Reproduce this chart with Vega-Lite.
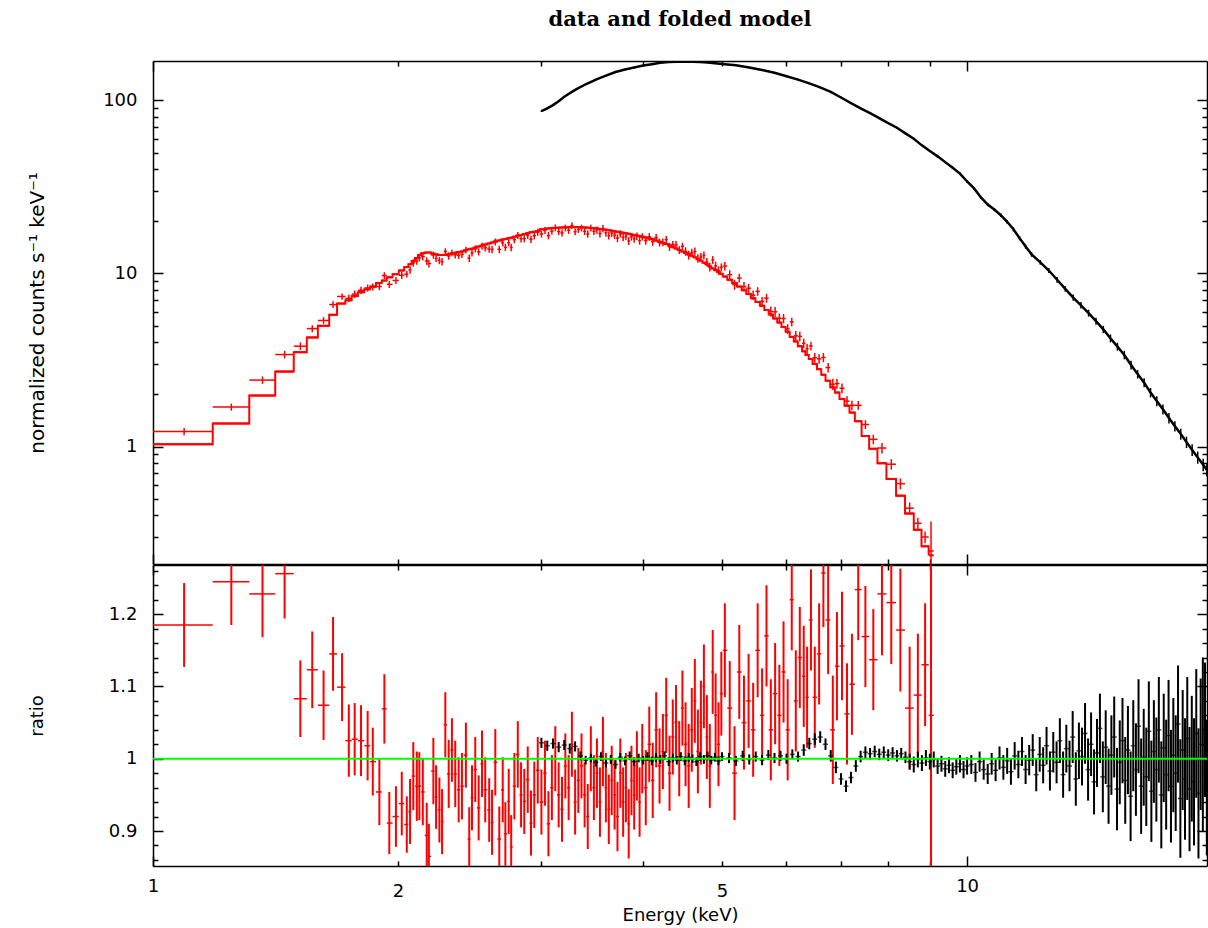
{
"$schema": "https://vega.github.io/schema/vega-lite/v6.json",
"background": "white",
"padding": {"left": 27, "top": 9, "right": 0, "bottom": 2},
"autosize": {"type": "pad"},
"spacing": -6,
"config": {
  "view": {"stroke": null},
  "axis": {"domainColor": "#000000", "domainWidth": 1.5, "tickColor": "#000000", "tickWidth": 1.5, "labelFont": "DejaVu Sans", "labelFontSize": 18, "labelColor": "#000000", "titleFont": "DejaVu Sans", "titleFontSize": 18, "titleFontWeight": "normal", "titleColor": "#000000", "grid": false, "labelFlush": false, "labelOverlap": false}
},
"datasets": {
"red": [
{"e":1.092,"lo":1.0,"hi":1.184,"y":1.22,"dy":0.06,"m":1.03,"r":1.185,"dr":0.058},
{"e":1.248,"lo":1.184,"hi":1.313,"y":1.69,"dy":0.08,"m":1.36,"r":1.245,"dr":0.06},
{"e":1.363,"lo":1.313,"hi":1.413,"y":2.42,"dy":0.12,"m":1.97,"r":1.228,"dr":0.06},
{"e":1.451,"lo":1.413,"hi":1.489,"y":3.40,"dy":0.17,"m":2.71,"r":1.256,"dr":0.062},
{"e":1.517,"lo":1.489,"hi":1.545,"y":3.80,"dy":0.19,"m":3.51,"r":1.083,"dr":0.053},
{"e":1.569,"lo":1.545,"hi":1.594,"y":4.80,"dy":0.22,"m":4.27,"r":1.123,"dr":0.053},
{"e":1.620,"lo":1.594,"hi":1.646,"y":5.35,"dy":0.24,"m":4.98,"r":1.074,"dr":0.048},
{"e":1.664,"lo":1.646,"hi":1.683,"y":6.61,"dy":0.29,"m":5.77,"r":1.145,"dr":0.051},
{"e":1.707,"lo":1.683,"hi":1.723,"y":7.36,"dy":0.31,"m":6.7,"r":1.099,"dr":0.047},
{"e":1.740,"lo":1.723,"hi":1.754,"y":7.18,"dy":0.35,"m":7.0,"r":1.025,"dr":0.050},
{"e":1.769,"lo":1.754,"hi":1.785,"y":7.60,"dy":0.37,"m":7.4,"r":1.027,"dr":0.050},
{"e":1.801,"lo":1.785,"hi":1.818,"y":8.00,"dy":0.38,"m":7.8,"r":1.025,"dr":0.049},
{"e":1.835,"lo":1.818,"hi":1.848,"y":8.25,"dy":0.39,"m":8.1,"r":1.018,"dr":0.048},
{"e":1.862,"lo":1.848,"hi":1.879,"y":8.37,"dy":0.39,"m":8.4,"r":0.996,"dr":0.047},
{"e":1.897,"lo":1.879,"hi":1.910,"y":8.40,"dy":0.40,"m":8.8,"r":0.954,"dr":0.046},
{"e":1.924,"lo":1.910,"hi":1.937,"y":9.73,"dy":0.44,"m":9.1,"r":1.069,"dr":0.048},
{"e":1.951,"lo":1.937,"hi":1.969,"y":8.65,"dy":0.41,"m":9.5,"r":0.911,"dr":0.043},
{"e":1.988,"lo":1.969,"hi":2.004,"y":9.11,"dy":0.42,"m":9.9,"r":0.920,"dr":0.042},
{"e":2.021,"lo":2.004,"hi":2.035,"y":9.76,"dy":0.46,"m":10.4,"r":0.938,"dr":0.044},
{"e":2.050,"lo":2.035,"hi":2.059,"y":9.91,"dy":0.43,"m":10.9,"r":0.909,"dr":0.039},
{"e":2.069,"lo":2.059,"hi":2.078,"y":10.48,"dy":0.51,"m":11.3,"r":0.927,"dr":0.045},
{"e":2.088,"lo":2.078,"hi":2.098,"y":11.52,"dy":0.55,"m":11.8,"r":0.976,"dr":0.047},
{"e":2.109,"lo":2.098,"hi":2.116,"y":11.83,"dy":0.59,"m":12.3,"r":0.962,"dr":0.048},
{"e":2.124,"lo":2.116,"hi":2.134,"y":12.31,"dy":0.60,"m":12.8,"r":0.962,"dr":0.047},
{"e":2.145,"lo":2.134,"hi":2.157,"y":12.50,"dy":0.60,"m":13.1,"r":0.954,"dr":0.046},
{"e":2.169,"lo":2.157,"hi":2.175,"y":11.80,"dy":0.59,"m":13.2,"r":0.894,"dr":0.045},
{"e":2.182,"lo":2.175,"hi":2.196,"y":11.42,"dy":0.59,"m":13.2,"r":0.865,"dr":0.045},
{"e":2.210,"lo":2.196,"hi":2.218,"y":12.78,"dy":0.60,"m":13.0,"r":0.983,"dr":0.046},
{"e":2.227,"lo":2.218,"hi":2.237,"y":12.22,"dy":0.57,"m":12.9,"r":0.947,"dr":0.044},
{"e":2.248,"lo":2.237,"hi":2.256,"y":11.89,"dy":0.58,"m":12.8,"r":0.929,"dr":0.045},
{"e":2.265,"lo":2.256,"hi":2.275,"y":11.69,"dy":0.58,"m":12.8,"r":0.913,"dr":0.045},
{"e":2.286,"lo":2.275,"hi":2.297,"y":13.40,"dy":0.58,"m":12.8,"r":1.047,"dr":0.045},
{"e":2.308,"lo":2.297,"hi":2.318,"y":12.63,"dy":0.61,"m":12.9,"r":0.979,"dr":0.047},
{"e":2.329,"lo":2.318,"hi":2.340,"y":13.16,"dy":0.57,"m":13.0,"r":1.012,"dr":0.044},
{"e":2.351,"lo":2.340,"hi":2.362,"y":12.82,"dy":0.60,"m":13.1,"r":0.979,"dr":0.046},
{"e":2.374,"lo":2.362,"hi":2.385,"y":12.73,"dy":0.60,"m":13.3,"r":0.957,"dr":0.045},
{"e":2.396,"lo":2.385,"hi":2.409,"y":12.89,"dy":0.62,"m":13.4,"r":0.962,"dr":0.046},
{"e":2.423,"lo":2.409,"hi":2.434,"y":13.67,"dy":0.61,"m":13.6,"r":1.005,"dr":0.045},
{"e":2.446,"lo":2.434,"hi":2.455,"y":12.27,"dy":0.61,"m":13.8,"r":0.889,"dr":0.044},
{"e":2.465,"lo":2.455,"hi":2.476,"y":13.15,"dy":0.63,"m":13.9,"r":0.946,"dr":0.045},
{"e":2.488,"lo":2.476,"hi":2.500,"y":13.89,"dy":0.63,"m":14.1,"r":0.985,"dr":0.045},
{"e":2.512,"lo":2.500,"hi":2.524,"y":13.33,"dy":0.64,"m":14.3,"r":0.932,"dr":0.045},
{"e":2.536,"lo":2.524,"hi":2.547,"y":14.40,"dy":0.67,"m":14.5,"r":0.993,"dr":0.046},
{"e":2.559,"lo":2.547,"hi":2.573,"y":14.07,"dy":0.66,"m":14.7,"r":0.957,"dr":0.045},
{"e":2.588,"lo":2.573,"hi":2.598,"y":13.84,"dy":0.66,"m":14.9,"r":0.929,"dr":0.044},
{"e":2.609,"lo":2.598,"hi":2.621,"y":13.77,"dy":0.68,"m":15.1,"r":0.912,"dr":0.045},
{"e":2.633,"lo":2.621,"hi":2.648,"y":15.22,"dy":0.70,"m":15.3,"r":0.995,"dr":0.046},
{"e":2.663,"lo":2.648,"hi":2.676,"y":13.78,"dy":0.70,"m":15.5,"r":0.889,"dr":0.045},
{"e":2.689,"lo":2.676,"hi":2.699,"y":15.02,"dy":0.71,"m":15.7,"r":0.957,"dr":0.045},
{"e":2.709,"lo":2.699,"hi":2.722,"y":14.16,"dy":0.70,"m":15.8,"r":0.896,"dr":0.044},
{"e":2.735,"lo":2.722,"hi":2.744,"y":15.06,"dy":0.72,"m":16.0,"r":0.941,"dr":0.045},
{"e":2.754,"lo":2.744,"hi":2.766,"y":14.14,"dy":0.71,"m":16.1,"r":0.878,"dr":0.044},
{"e":2.779,"lo":2.766,"hi":2.792,"y":15.68,"dy":0.75,"m":16.3,"r":0.962,"dr":0.046},
{"e":2.806,"lo":2.792,"hi":2.819,"y":16.60,"dy":0.76,"m":16.5,"r":1.006,"dr":0.046},
{"e":2.832,"lo":2.819,"hi":2.845,"y":15.87,"dy":0.75,"m":16.7,"r":0.950,"dr":0.045},
{"e":2.858,"lo":2.845,"hi":2.872,"y":15.90,"dy":0.76,"m":16.9,"r":0.941,"dr":0.045},
{"e":2.886,"lo":2.872,"hi":2.899,"y":16.60,"dy":0.79,"m":17.1,"r":0.971,"dr":0.046},
{"e":2.913,"lo":2.899,"hi":2.926,"y":15.76,"dy":0.78,"m":17.3,"r":0.911,"dr":0.045},
{"e":2.940,"lo":2.926,"hi":2.954,"y":16.53,"dy":0.80,"m":17.4,"r":0.950,"dr":0.046},
{"e":2.969,"lo":2.954,"hi":2.984,"y":17.32,"dy":0.81,"m":17.6,"r":0.984,"dr":0.046},
{"e":3.00,"lo":2.985,"hi":3.015,"y":16.92,"dy":0.81,"m":18.0,"r":0.94,"dr":0.045},
{"e":3.03,"lo":3.015,"hi":3.045,"y":17.74,"dy":0.81,"m":18.1,"r":0.98,"dr":0.045},
{"e":3.06,"lo":3.045,"hi":3.075,"y":16.56,"dy":0.82,"m":18.2,"r":0.91,"dr":0.045},
{"e":3.09,"lo":3.075,"hi":3.105,"y":17.57,"dy":0.82,"m":18.3,"r":0.96,"dr":0.045},
{"e":3.12,"lo":3.105,"hi":3.135,"y":18.35,"dy":0.83,"m":18.35,"r":1.00,"dr":0.045},
{"e":3.15,"lo":3.135,"hi":3.165,"y":17.48,"dy":0.83,"m":18.4,"r":0.95,"dr":0.045},
{"e":3.18,"lo":3.165,"hi":3.195,"y":17.16,"dy":0.83,"m":18.45,"r":0.93,"dr":0.045},
{"e":3.21,"lo":3.195,"hi":3.225,"y":18.32,"dy":0.83,"m":18.5,"r":0.99,"dr":0.045},
{"e":3.24,"lo":3.225,"hi":3.255,"y":17.76,"dy":0.83,"m":18.5,"r":0.96,"dr":0.045},
{"e":3.27,"lo":3.255,"hi":3.285,"y":18.92,"dy":0.83,"m":18.55,"r":1.02,"dr":0.045},
{"e":3.30,"lo":3.285,"hi":3.315,"y":17.44,"dy":0.83,"m":18.55,"r":0.94,"dr":0.045},
{"e":3.33,"lo":3.315,"hi":3.345,"y":17.99,"dy":0.83,"m":18.55,"r":0.97,"dr":0.045},
{"e":3.36,"lo":3.345,"hi":3.375,"y":18.32,"dy":0.83,"m":18.5,"r":0.99,"dr":0.045},
{"e":3.39,"lo":3.375,"hi":3.405,"y":17.53,"dy":0.83,"m":18.45,"r":0.95,"dr":0.045},
{"e":3.42,"lo":3.405,"hi":3.435,"y":16.93,"dy":0.83,"m":18.4,"r":0.92,"dr":0.045},
{"e":3.45,"lo":3.435,"hi":3.465,"y":18.30,"dy":0.82,"m":18.3,"r":1.00,"dr":0.045},
{"e":3.48,"lo":3.465,"hi":3.495,"y":17.52,"dy":0.82,"m":18.25,"r":0.96,"dr":0.045},
{"e":3.51,"lo":3.495,"hi":3.525,"y":17.84,"dy":0.87,"m":18.2,"r":0.98,"dr":0.048},
{"e":3.54,"lo":3.525,"hi":3.555,"y":17.01,"dy":0.87,"m":18.1,"r":0.94,"dr":0.048},
{"e":3.57,"lo":3.555,"hi":3.585,"y":18.18,"dy":0.86,"m":18.0,"r":1.01,"dr":0.048},
{"e":3.60,"lo":3.585,"hi":3.615,"y":17.18,"dy":0.86,"m":17.9,"r":0.96,"dr":0.048},
{"e":3.63,"lo":3.615,"hi":3.645,"y":16.55,"dy":0.85,"m":17.8,"r":0.93,"dr":0.048},
{"e":3.66,"lo":3.645,"hi":3.675,"y":17.12,"dy":0.85,"m":17.65,"r":0.97,"dr":0.048},
{"e":3.69,"lo":3.675,"hi":3.705,"y":16.67,"dy":0.84,"m":17.55,"r":0.95,"dr":0.048},
{"e":3.72,"lo":3.705,"hi":3.735,"y":16.01,"dy":0.84,"m":17.4,"r":0.92,"dr":0.048},
{"e":3.75,"lo":3.735,"hi":3.765,"y":16.95,"dy":0.83,"m":17.3,"r":0.98,"dr":0.048},
{"e":3.78,"lo":3.765,"hi":3.795,"y":16.17,"dy":0.83,"m":17.2,"r":0.94,"dr":0.048},
{"e":3.81,"lo":3.795,"hi":3.825,"y":16.42,"dy":0.82,"m":17.1,"r":0.96,"dr":0.048},
{"e":3.84,"lo":3.825,"hi":3.855,"y":15.42,"dy":0.81,"m":16.95,"r":0.91,"dr":0.048},
{"e":3.87,"lo":3.855,"hi":3.885,"y":16.30,"dy":0.81,"m":16.8,"r":0.97,"dr":0.048},
{"e":3.90,"lo":3.885,"hi":3.915,"y":15.87,"dy":0.80,"m":16.7,"r":0.95,"dr":0.048},
{"e":3.93,"lo":3.915,"hi":3.945,"y":16.43,"dy":0.80,"m":16.6,"r":0.99,"dr":0.048},
{"e":3.96,"lo":3.945,"hi":3.975,"y":15.46,"dy":0.79,"m":16.45,"r":0.94,"dr":0.048},
{"e":3.99,"lo":3.975,"hi":4.010,"y":16.30,"dy":0.78,"m":16.3,"r":1.00,"dr":0.048},
{"e":4.03,"lo":4.010,"hi":4.050,"y":15.50,"dy":0.84,"m":16.15,"r":0.96,"dr":0.052},
{"e":4.07,"lo":4.050,"hi":4.090,"y":16.27,"dy":0.83,"m":15.95,"r":1.02,"dr":0.052},
{"e":4.11,"lo":4.090,"hi":4.130,"y":15.28,"dy":0.82,"m":15.75,"r":0.97,"dr":0.052},
{"e":4.15,"lo":4.130,"hi":4.170,"y":16.12,"dy":0.81,"m":15.5,"r":1.04,"dr":0.052},
{"e":4.19,"lo":4.170,"hi":4.210,"y":15.10,"dy":0.79,"m":15.25,"r":0.99,"dr":0.052},
{"e":4.23,"lo":4.210,"hi":4.250,"y":15.15,"dy":0.78,"m":15.0,"r":1.01,"dr":0.052},
{"e":4.27,"lo":4.250,"hi":4.290,"y":15.69,"dy":0.77,"m":14.8,"r":1.06,"dr":0.052},
{"e":4.31,"lo":4.290,"hi":4.330,"y":14.26,"dy":0.76,"m":14.55,"r":0.98,"dr":0.052},
{"e":4.35,"lo":4.330,"hi":4.370,"y":14.68,"dy":0.74,"m":14.25,"r":1.03,"dr":0.052},
{"e":4.39,"lo":4.370,"hi":4.410,"y":14.65,"dy":0.73,"m":13.95,"r":1.05,"dr":0.052},
{"e":4.43,"lo":4.410,"hi":4.450,"y":13.65,"dy":0.71,"m":13.65,"r":1.00,"dr":0.052},
{"e":4.47,"lo":4.450,"hi":4.490,"y":14.34,"dy":0.70,"m":13.4,"r":1.07,"dr":0.052},
{"e":4.51,"lo":4.490,"hi":4.530,"y":13.41,"dy":0.76,"m":13.15,"r":1.02,"dr":0.058},
{"e":4.55,"lo":4.530,"hi":4.570,"y":12.77,"dy":0.75,"m":12.9,"r":0.99,"dr":0.058},
{"e":4.59,"lo":4.570,"hi":4.610,"y":13.16,"dy":0.73,"m":12.65,"r":1.04,"dr":0.058},
{"e":4.63,"lo":4.610,"hi":4.650,"y":13.39,"dy":0.72,"m":12.4,"r":1.08,"dr":0.058},
{"e":4.67,"lo":4.650,"hi":4.690,"y":12.22,"dy":0.70,"m":12.1,"r":1.01,"dr":0.058},
{"e":4.71,"lo":4.690,"hi":4.730,"y":12.44,"dy":0.69,"m":11.85,"r":1.05,"dr":0.058},
{"e":4.75,"lo":4.730,"hi":4.770,"y":12.71,"dy":0.67,"m":11.55,"r":1.10,"dr":0.058},
{"e":4.79,"lo":4.770,"hi":4.810,"y":11.64,"dy":0.66,"m":11.3,"r":1.03,"dr":0.058},
{"e":4.83,"lo":4.810,"hi":4.850,"y":10.89,"dy":0.64,"m":11.0,"r":0.99,"dr":0.058},
{"e":4.87,"lo":4.850,"hi":4.890,"y":11.98,"dy":0.62,"m":10.7,"r":1.12,"dr":0.058},
{"e":4.91,"lo":4.890,"hi":4.930,"y":11.08,"dy":0.61,"m":10.45,"r":1.06,"dr":0.058},
{"e":4.95,"lo":4.930,"hi":4.970,"y":10.40,"dy":0.59,"m":10.2,"r":1.02,"dr":0.058},
{"e":4.99,"lo":4.970,"hi":5.010,"y":10.85,"dy":0.58,"m":9.95,"r":1.09,"dr":0.058},
{"e":5.04,"lo":5.010,"hi":5.075,"y":11.04,"dy":0.62,"m":9.6,"r":1.15,"dr":0.065},
{"e":5.11,"lo":5.075,"hi":5.145,"y":9.84,"dy":0.60,"m":9.2,"r":1.07,"dr":0.065},
{"e":5.18,"lo":5.145,"hi":5.215,"y":8.62,"dy":0.57,"m":8.8,"r":0.98,"dr":0.065},
{"e":5.25,"lo":5.215,"hi":5.285,"y":9.41,"dy":0.55,"m":8.4,"r":1.12,"dr":0.065},
{"e":5.32,"lo":5.285,"hi":5.355,"y":8.40,"dy":0.52,"m":8.0,"r":1.05,"dr":0.065},
{"e":5.39,"lo":5.355,"hi":5.425,"y":8.21,"dy":0.49,"m":7.6,"r":1.08,"dr":0.065},
{"e":5.46,"lo":5.425,"hi":5.495,"y":7.49,"dy":0.47,"m":7.2,"r":1.04,"dr":0.065},
{"e":5.53,"lo":5.495,"hi":5.565,"y":7.88,"dy":0.45,"m":6.85,"r":1.15,"dr":0.065},
{"e":5.60,"lo":5.565,"hi":5.635,"y":6.89,"dy":0.42,"m":6.5,"r":1.06,"dr":0.065},
{"e":5.67,"lo":5.635,"hi":5.705,"y":7.20,"dy":0.43,"m":6.15,"r":1.17,"dr":0.07},
{"e":5.74,"lo":5.705,"hi":5.775,"y":6.03,"dy":0.41,"m":5.8,"r":1.04,"dr":0.07},
{"e":5.81,"lo":5.775,"hi":5.845,"y":6.00,"dy":0.39,"m":5.5,"r":1.09,"dr":0.07},
{"e":5.88,"lo":5.845,"hi":5.915,"y":5.51,"dy":0.36,"m":5.2,"r":1.06,"dr":0.07},
{"e":5.95,"lo":5.915,"hi":5.985,"y":5.49,"dy":0.34,"m":4.9,"r":1.12,"dr":0.07},
{"e":6.02,"lo":5.985,"hi":6.055,"y":4.78,"dy":0.32,"m":4.6,"r":1.04,"dr":0.07},
{"e":6.09,"lo":6.055,"hi":6.125,"y":5.25,"dy":0.30,"m":4.3,"r":1.22,"dr":0.07},
{"e":6.16,"lo":6.125,"hi":6.195,"y":4.37,"dy":0.28,"m":4.05,"r":1.08,"dr":0.07},
{"e":6.23,"lo":6.195,"hi":6.270,"y":4.33,"dy":0.27,"m":3.8,"r":1.14,"dr":0.07},
{"e":6.30,"lo":6.27,"hi":6.33,"y":3.95,"dy":0.25,"m":3.55,"r":1.114,"dr":0.07},
{"e":6.36,"lo":6.33,"hi":6.39,"y":3.67,"dy":0.24,"m":3.38,"r":1.085,"dr":0.07},
{"e":6.43,"lo":6.39,"hi":6.46,"y":3.81,"dy":0.22,"m":3.2,"r":1.192,"dr":0.07},
{"e":6.50,"lo":6.46,"hi":6.54,"y":3.26,"dy":0.21,"m":3.0,"r":1.085,"dr":0.07},
{"e":6.58,"lo":6.54,"hi":6.62,"y":3.21,"dy":0.20,"m":2.8,"r":1.145,"dr":0.07},
{"e":6.66,"lo":6.62,"hi":6.70,"y":3.27,"dy":0.20,"m":2.6,"r":1.257,"dr":0.075},
{"e":6.75,"lo":6.70,"hi":6.79,"y":2.86,"dy":0.18,"m":2.4,"r":1.192,"dr":0.075},
{"e":6.84,"lo":6.79,"hi":6.88,"y":2.29,"dy":0.17,"m":2.2,"r":1.04,"dr":0.075},
{"e":6.92,"lo":6.88,"hi":6.97,"y":2.31,"dy":0.15,"m":2.05,"r":1.128,"dr":0.075},
{"e":7.02,"lo":6.97,"hi":7.07,"y":2.17,"dy":0.14,"m":1.88,"r":1.156,"dr":0.075},
{"e":7.12,"lo":7.07,"hi":7.17,"y":1.83,"dy":0.12,"m":1.72,"r":1.062,"dr":0.07},
{"e":7.22,"lo":7.17,"hi":7.28,"y":1.73,"dy":0.11,"m":1.57,"r":1.103,"dr":0.07},
{"e":7.35,"lo":7.28,"hi":7.42,"y":1.73,"dy":0.10,"m":1.40,"r":1.234,"dr":0.07},
{"e":7.50,"lo":7.42,"hi":7.58,"y":1.34,"dy":0.08,"m":1.15,"r":1.169,"dr":0.07},
{"e":7.67,"lo":7.58,"hi":7.76,"y":1.10,"dy":0.07,"m":0.97,"r":1.137,"dr":0.07},
{"e":7.86,"lo":7.76,"hi":7.96,"y":0.98,"dy":0.068,"m":0.80,"r":1.228,"dr":0.085},
{"e":8.07,"lo":7.96,"hi":8.18,"y":0.79,"dy":0.055,"m":0.65,"r":1.216,"dr":0.085},
{"e":8.28,"lo":8.18,"hi":8.39,"y":0.61,"dy":0.044,"m":0.52,"r":1.178,"dr":0.085},
{"e":8.50,"lo":8.39,"hi":8.60,"y":0.44,"dy":0.035,"m":0.41,"r":1.070,"dr":0.085},
{"e":8.70,"lo":8.60,"hi":8.79,"y":0.36,"dy":0.028,"m":0.33,"r":1.088,"dr":0.085},
{"e":8.88,"lo":8.79,"hi":8.97,"y":0.30,"dy":0.023,"m":0.265,"r":1.130,"dr":0.085},
{"e":9.03,"lo":8.97,"hi":9.10,"y":0.249,"dy":0.12,"m":0.235,"r":1.060,"dr":0.5}
],
"blk": [
{"e":3.00,"y":86.7,"dy":1.0},{"e":3.05,"y":90,"dy":1.0},{"e":3.10,"y":94,"dy":1.0},{"e":3.15,"y":99,"dy":1.0},{"e":3.20,"y":105,"dy":1.1},{"e":3.30,"y":115,"dy":1.2},{"e":3.40,"y":124,"dy":1.2},{"e":3.50,"y":132,"dy":1.3},{"e":3.60,"y":139,"dy":1.3},{"e":3.70,"y":146,"dy":1.4},{"e":3.80,"y":151,"dy":1.4},{"e":3.90,"y":155,"dy":1.5},{"e":4.00,"y":159,"dy":1.5},{"e":4.10,"y":162,"dy":1.5},{"e":4.20,"y":165,"dy":1.6},{"e":4.30,"y":166.5,"dy":1.6},{"e":4.40,"y":167.5,"dy":1.6},{"e":4.50,"y":168,"dy":1.6},{"e":4.60,"y":167.5,"dy":1.6},{"e":4.70,"y":166.5,"dy":1.6},{"e":4.80,"y":165.5,"dy":1.6},{"e":4.90,"y":164,"dy":1.6},{"e":5.00,"y":162.5,"dy":1.6},{"e":5.20,"y":159.5,"dy":1.5},{"e":5.40,"y":155,"dy":1.5},{"e":5.60,"y":150,"dy":1.5},{"e":5.80,"y":144.5,"dy":1.4},{"e":6.00,"y":138,"dy":1.4},{"e":6.20,"y":132,"dy":1.3},{"e":6.40,"y":125.5,"dy":1.3},{"e":6.60,"y":119,"dy":1.3},{"e":6.80,"y":112,"dy":1.2},{"e":7.00,"y":104,"dy":1.2},{"e":7.20,"y":96.5,"dy":1.1},{"e":7.40,"y":90,"dy":1.0},{"e":7.60,"y":84.5,"dy":1.0},{"e":7.80,"y":79,"dy":1.0},{"e":8.00,"y":74,"dy":0.9},{"e":8.20,"y":69.5,"dy":0.9},{"e":8.40,"y":64.5,"dy":0.8},{"e":8.60,"y":60,"dy":0.8},{"e":8.80,"y":55,"dy":0.7},{"e":9.00,"y":51,"dy":0.7},{"e":9.20,"y":47.5,"dy":0.7},{"e":9.40,"y":44,"dy":0.7},{"e":9.60,"y":40.8,"dy":0.6},{"e":9.80,"y":37.8,"dy":0.6},{"e":10.0,"y":34,"dy":0.6},{"e":10.2,"y":31,"dy":0.6},{"e":10.4,"y":27.5,"dy":0.5},{"e":10.6,"y":25.0,"dy":0.5},{"e":10.8,"y":23.4,"dy":0.5},{"e":11.0,"y":21.7,"dy":0.5},{"e":11.2,"y":19.9,"dy":0.5},{"e":11.4,"y":18.0,"dy":0.5},{"e":11.6,"y":16.0,"dy":0.45},{"e":11.8,"y":14.3,"dy":0.4},{"e":12.0,"y":12.9,"dy":0.4},{"e":12.3,"y":11.6,"dy":0.35},{"e":12.6,"y":10.4,"dy":0.35},{"e":12.9,"y":9.2,"dy":0.35},{"e":13.2,"y":8.15,"dy":0.3},{"e":13.5,"y":7.25,"dy":0.3},{"e":13.8,"y":6.55,"dy":0.28},{"e":14.1,"y":5.9,"dy":0.27},{"e":14.4,"y":5.3,"dy":0.25},{"e":14.7,"y":4.75,"dy":0.23},{"e":15.0,"y":4.22,"dy":0.22},{"e":15.3,"y":3.78,"dy":0.2},{"e":15.6,"y":3.38,"dy":0.19},{"e":15.9,"y":2.96,"dy":0.17},{"e":16.2,"y":2.62,"dy":0.15},{"e":16.5,"y":2.34,"dy":0.14},{"e":16.8,"y":2.05,"dy":0.13},{"e":17.1,"y":1.83,"dy":0.12},{"e":17.4,"y":1.64,"dy":0.11},{"e":17.7,"y":1.46,"dy":0.1},{"e":18.0,"y":1.31,"dy":0.09},{"e":18.3,"y":1.18,"dy":0.085},{"e":18.6,"y":1.06,"dy":0.08},{"e":18.9,"y":0.955,"dy":0.075},{"e":19.2,"y":0.865,"dy":0.07},{"e":19.5,"y":0.785,"dy":0.065},{"e":19.7,"y":0.73,"dy":0.06}
],
"blkr": [
{"e":3.00,"r":1.022,"dr":0.007},{"e":3.05,"r":1.018,"dr":0.007},{"e":3.10,"r":1.021,"dr":0.007},{"e":3.15,"r":1.016,"dr":0.007},{"e":3.20,"r":1.019,"dr":0.007},{"e":3.25,"r":1.014,"dr":0.007},{"e":3.30,"r":1.017,"dr":0.007},{"e":3.35,"r":1.004,"dr":0.006},{"e":3.40,"r":0.998,"dr":0.006},{"e":3.45,"r":1.001,"dr":0.006},{"e":3.50,"r":0.995,"dr":0.006},{"e":3.55,"r":1.003,"dr":0.006},{"e":3.60,"r":0.994,"dr":0.006},{"e":3.65,"r":0.999,"dr":0.006},{"e":3.70,"r":0.992,"dr":0.006},{"e":3.75,"r":1.002,"dr":0.006},{"e":3.80,"r":0.997,"dr":0.006},{"e":3.85,"r":1.004,"dr":0.006},{"e":3.90,"r":0.996,"dr":0.006},{"e":3.95,"r":1.001,"dr":0.006},{"e":4.00,"r":0.998,"dr":0.006},{"e":4.05,"r":1.003,"dr":0.006},{"e":4.10,"r":0.997,"dr":0.006},{"e":4.15,"r":1.002,"dr":0.006},{"e":4.20,"r":0.999,"dr":0.006},{"e":4.25,"r":1.004,"dr":0.006},{"e":4.30,"r":0.996,"dr":0.006},{"e":4.35,"r":1.001,"dr":0.006},{"e":4.40,"r":0.998,"dr":0.006},{"e":4.45,"r":1.003,"dr":0.006},{"e":4.50,"r":0.997,"dr":0.006},{"e":4.55,"r":1.002,"dr":0.006},{"e":4.60,"r":1.000,"dr":0.006},{"e":4.65,"r":0.996,"dr":0.006},{"e":4.70,"r":1.003,"dr":0.006},{"e":4.75,"r":0.999,"dr":0.006},{"e":4.80,"r":1.004,"dr":0.006},{"e":4.85,"r":0.998,"dr":0.006},{"e":4.90,"r":1.002,"dr":0.006},{"e":4.95,"r":0.997,"dr":0.006},{"e":5.00,"r":1.003,"dr":0.006},
{"e":5.1,"r":1.001,"dr":0.007},{"e":5.2,"r":0.997,"dr":0.007},{"e":5.3,"r":1.004,"dr":0.007},{"e":5.4,"r":0.999,"dr":0.007},{"e":5.5,"r":1.003,"dr":0.007},{"e":5.6,"r":0.998,"dr":0.007},{"e":5.7,"r":1.005,"dr":0.007},{"e":5.8,"r":1.001,"dr":0.007},{"e":5.9,"r":1.004,"dr":0.007},{"e":6.0,"r":1.000,"dr":0.007},{"e":6.1,"r":1.006,"dr":0.007},{"e":6.2,"r":1.003,"dr":0.007},{"e":6.3,"r":1.012,"dr":0.008},{"e":6.4,"r":1.021,"dr":0.008},{"e":6.5,"r":1.027,"dr":0.008},{"e":6.6,"r":1.030,"dr":0.008},{"e":6.7,"r":1.020,"dr":0.008},{"e":6.8,"r":1.004,"dr":0.008},{"e":6.9,"r":0.988,"dr":0.008},{"e":7.0,"r":0.972,"dr":0.008},{"e":7.1,"r":0.962,"dr":0.008},{"e":7.2,"r":0.974,"dr":0.008},{"e":7.3,"r":0.990,"dr":0.008},{"e":7.4,"r":1.003,"dr":0.008},{"e":7.5,"r":1.009,"dr":0.008},{"e":7.6,"r":1.007,"dr":0.008},{"e":7.7,"r":1.010,"dr":0.008},{"e":7.8,"r":1.006,"dr":0.008},{"e":7.9,"r":1.009,"dr":0.008},{"e":8.0,"r":1.005,"dr":0.008},{"e":8.1,"r":1.008,"dr":0.008},{"e":8.2,"r":1.004,"dr":0.008},{"e":8.3,"r":1.007,"dr":0.008},{"e":8.4,"r":1.002,"dr":0.008},{"e":8.5,"r":0.996,"dr":0.011},{"e":8.6,"r":0.992,"dr":0.011},{"e":8.7,"r":0.999,"dr":0.011},{"e":8.8,"r":0.994,"dr":0.011},{"e":8.9,"r":1.001,"dr":0.011},{"e":9.0,"r":0.996,"dr":0.011},{"e":9.1,"r":0.999,"dr":0.011},{"e":9.2,"r":0.990,"dr":0.011},{"e":9.3,"r":0.993,"dr":0.011},{"e":9.4,"r":0.986,"dr":0.011},{"e":9.5,"r":0.991,"dr":0.011},{"e":9.6,"r":0.984,"dr":0.011},{"e":9.7,"r":0.989,"dr":0.011},{"e":9.8,"r":0.993,"dr":0.012},{"e":9.9,"r":0.985,"dr":0.012},{"e":10.0,"r":0.990,"dr":0.012},
{"e":10.12,"r":0.992,"dr":0.013},{"e":10.24,"r":0.981,"dr":0.013},{"e":10.36,"r":0.996,"dr":0.014},{"e":10.48,"r":0.985,"dr":0.014},{"e":10.60,"r":0.979,"dr":0.014},{"e":10.72,"r":0.993,"dr":0.015},{"e":10.84,"r":0.984,"dr":0.015},{"e":10.96,"r":1.001,"dr":0.016},{"e":11.08,"r":0.988,"dr":0.017},{"e":11.20,"r":0.997,"dr":0.018},{"e":11.32,"r":0.982,"dr":0.018},{"e":11.44,"r":1.004,"dr":0.019},{"e":11.56,"r":0.992,"dr":0.019},{"e":11.68,"r":1.010,"dr":0.020},{"e":11.80,"r":0.985,"dr":0.020},{"e":11.92,"r":0.998,"dr":0.021},{"e":12.04,"r":1.012,"dr":0.022},{"e":12.16,"r":0.978,"dr":0.023},{"e":12.28,"r":1.006,"dr":0.024},{"e":12.40,"r":0.991,"dr":0.025},{"e":12.52,"r":1.018,"dr":0.026},{"e":12.64,"r":0.983,"dr":0.027},{"e":12.76,"r":1.009,"dr":0.028},{"e":12.88,"r":0.995,"dr":0.029},{"e":13.00,"r":1.025,"dr":0.031},{"e":13.12,"r":0.978,"dr":0.032},{"e":13.24,"r":1.014,"dr":0.033},{"e":13.36,"r":0.990,"dr":0.035},{"e":13.48,"r":1.030,"dr":0.036},{"e":13.60,"r":0.972,"dr":0.037},{"e":13.72,"r":1.011,"dr":0.039},{"e":13.84,"r":1.003,"dr":0.040},{"e":13.96,"r":1.035,"dr":0.042},{"e":14.08,"r":0.985,"dr":0.043},{"e":14.20,"r":1.020,"dr":0.044},{"e":14.32,"r":0.968,"dr":0.045},{"e":14.44,"r":1.008,"dr":0.047},{"e":14.56,"r":1.042,"dr":0.048},{"e":14.68,"r":0.975,"dr":0.049},{"e":14.80,"r":1.016,"dr":0.051},{"e":14.92,"r":0.962,"dr":0.052},{"e":15.04,"r":1.005,"dr":0.055},{"e":15.16,"r":1.030,"dr":0.056},{"e":15.28,"r":0.958,"dr":0.057},{"e":15.40,"r":0.995,"dr":0.058},{"e":15.52,"r":1.025,"dr":0.059},{"e":15.64,"r":0.970,"dr":0.060},{"e":15.76,"r":1.012,"dr":0.061},{"e":15.88,"r":0.948,"dr":0.062},{"e":16.00,"r":1.018,"dr":0.063},{"e":16.12,"r":0.985,"dr":0.064},{"e":16.24,"r":1.045,"dr":0.065},{"e":16.36,"r":0.962,"dr":0.066},{"e":16.48,"r":1.002,"dr":0.067},{"e":16.60,"r":0.975,"dr":0.068},{"e":16.72,"r":1.038,"dr":0.069},{"e":16.84,"r":0.955,"dr":0.070},{"e":16.96,"r":1.010,"dr":0.071},{"e":17.08,"r":0.985,"dr":0.072},{"e":17.20,"r":1.040,"dr":0.073},{"e":17.32,"r":0.950,"dr":0.074},{"e":17.44,"r":1.015,"dr":0.075},{"e":17.56,"r":0.978,"dr":0.076},{"e":17.68,"r":1.032,"dr":0.077},{"e":17.80,"r":0.962,"dr":0.078},{"e":17.92,"r":1.005,"dr":0.079},{"e":18.04,"r":0.980,"dr":0.080},{"e":18.16,"r":1.048,"dr":0.081},{"e":18.28,"r":0.945,"dr":0.082},{"e":18.40,"r":1.012,"dr":0.083},{"e":18.52,"r":0.972,"dr":0.084},{"e":18.64,"r":1.028,"dr":0.085},{"e":18.76,"r":0.958,"dr":0.086},{"e":18.88,"r":1.000,"dr":0.087},{"e":19.00,"r":0.968,"dr":0.088},{"e":19.12,"r":1.035,"dr":0.089},{"e":19.24,"r":0.952,"dr":0.090},{"e":19.36,"r":1.020,"dr":0.091},{"e":19.48,"r":1.020,"dr":0.120},{"e":19.60,"r":1.040,"dr":0.093},{"e":19.70,"r":0.960,"dr":0.094}
]
},
"vconcat": [
{
  "width": 1054, "height": 503,
  "title": {"text": "data and folded model", "font": "DejaVu Serif", "fontSize": 21, "fontWeight": "bold", "color": "#000000", "anchor": "middle", "frame": "group", "offset": 13, "baseline": "alphabetic"},
  "resolve": {"axis": {"x": "independent", "y": "independent"}},
  "layer": [
    {"data": {"name": "red"},
     "mark": {"type": "line", "interpolate": "step-after", "color": "#ff0000", "strokeWidth": 2, "clip": true},
     "encoding": {
       "x": {"field": "lo", "type": "quantitative", "scale": {"type": "log", "domain": [1, 19.71], "nice": false},
             "axis": {"orient": "bottom", "values": [1,2,3,4,5,6,7,8,9,10], "labels": false, "title": null, "tickSize": {"condition": {"test": "datum.value==1||datum.value==10", "value": -10}, "value": -5}}},
       "y": {"field": "m", "type": "quantitative", "scale": {"type": "log", "domain": [0.2094, 169], "nice": false},
             "axis": {"orient": "left", "values": [0.3,0.4,0.5,0.6,0.7,0.8,0.9,1,2,3,4,5,6,7,8,9,10,20,30,40,50,60,70,80,90,100],
                      "labelExpr": "indexof([1,10,100], datum.value) >= 0 ? '' + datum.value : ''",
                      "tickSize": {"condition": {"test": "indexof([1,10,100], datum.value) >= 0", "value": -10}, "value": -5},
                      "labelPadding": 26,
                      "title": "normalized counts s⁻¹  keV⁻¹", "titleFontSize": 20, "titleX": -116, "titleY": 251.5, "titleAngle": 270, "titleAlign": "center", "titleBaseline": "middle"}}
     }},
    {"data": {"name": "red"},
     "mark": {"type": "rule", "color": "#ff0000", "strokeWidth": 2, "clip": true},
     "encoding": {
       "x": {"field": "lo", "type": "quantitative", "scale": {"type": "log", "domain": [1, 19.71], "nice": false}, "axis": null},
       "x2": {"field": "hi"},
       "y": {"field": "m", "type": "quantitative", "scale": {"type": "log", "domain": [0.2094, 169], "nice": false}, "axis": null}
     }},
    {"data": {"name": "red"},
     "mark": {"type": "rule", "color": "#ff0000", "strokeWidth": 1.5, "clip": true},
     "encoding": {
       "x": {"field": "lo", "type": "quantitative", "scale": {"type": "log", "domain": [1, 19.71], "nice": false}, "axis": null},
       "x2": {"field": "hi"},
       "y": {"field": "y", "type": "quantitative", "scale": {"type": "log", "domain": [0.2094, 169], "nice": false}, "axis": null}
     }},
    {"data": {"name": "red"},
     "mark": {"type": "errorbar", "color": "#ff0000", "thickness": 1.5, "clip": true},
     "encoding": {
       "x": {"field": "e", "type": "quantitative", "scale": {"type": "log", "domain": [1, 19.71], "nice": false}, "axis": null},
       "y": {"field": "y", "type": "quantitative", "scale": {"type": "log", "domain": [0.2094, 169], "nice": false}, "axis": null},
       "yError": {"field": "dy"}
     }},
    {"data": {"name": "blk"},
     "mark": {"type": "line", "color": "#000000", "strokeWidth": 2.5, "clip": true},
     "encoding": {
       "x": {"field": "e", "type": "quantitative", "scale": {"type": "log", "domain": [1, 19.71], "nice": false},
             "axis": {"orient": "top", "values": [1,2,3,4,5,6,7,8,9,10], "labels": false, "title": null, "tickSize": {"condition": {"test": "datum.value==1||datum.value==10", "value": -10}, "value": -5}}},
       "y": {"field": "y", "type": "quantitative", "scale": {"type": "log", "domain": [0.2094, 169], "nice": false},
             "axis": {"orient": "right", "values": [0.3,0.4,0.5,0.6,0.7,0.8,0.9,1,2,3,4,5,6,7,8,9,10,20,30,40,50,60,70,80,90,100], "labels": false, "title": null,
                      "tickSize": {"condition": {"test": "indexof([1,10,100], datum.value) >= 0", "value": -10}, "value": -5}}}
     }},
    {"data": {"name": "blk"},
     "mark": {"type": "errorbar", "color": "#000000", "thickness": 1.5, "clip": true},
     "encoding": {
       "x": {"field": "e", "type": "quantitative", "scale": {"type": "log", "domain": [1, 19.71], "nice": false}, "axis": null},
       "y": {"field": "y", "type": "quantitative", "scale": {"type": "log", "domain": [0.2094, 169], "nice": false}, "axis": null},
       "yError": {"field": "dy"}
     }}
  ]
},
{
  "width": 1054, "height": 301,
  "resolve": {"axis": {"x": "independent", "y": "independent"}},
  "layer": [
    {"data": {"name": "red"},
     "mark": {"type": "rule", "color": "#ff0000", "strokeWidth": 1.5, "clip": true},
     "encoding": {
       "x": {"field": "lo", "type": "quantitative", "scale": {"type": "log", "domain": [1, 19.71], "nice": false},
             "axis": {"orient": "bottom", "values": [1,2,3,4,5,6,7,8,9,10],
                      "labelExpr": "indexof([1,2,5,10], datum.value) >= 0 ? '' + datum.value : ''",
                      "labelPadding": 21, "title": "Energy (keV)", "titlePadding": 6,
                      "tickSize": {"condition": {"test": "datum.value==1||datum.value==10", "value": -10}, "value": -5}}},
       "x2": {"field": "hi"},
       "y": {"field": "r", "type": "quantitative", "scale": {"type": "linear", "domain": [0.8516, 1.268], "nice": false, "zero": false},
             "axis": {"orient": "left", "values": [0.86,0.88,0.9,0.92,0.94,0.96,0.98,1,1.02,1.04,1.06,1.08,1.1,1.12,1.14,1.16,1.18,1.2,1.22,1.24,1.26],
                      "labelExpr": "indexof([0.9,1,1.1,1.2], datum.value) >= 0 ? '' + datum.value : ''",
                      "tickSize": {"condition": {"test": "indexof([0.9,1,1.1,1.2], datum.value) >= 0", "value": -10}, "value": -5},
                      "labelPadding": 26,
                      "title": "ratio", "titleX": -116, "titleY": 150.5, "titleAngle": 270, "titleAlign": "center", "titleBaseline": "middle"}}
     }},
    {"data": {"name": "red"},
     "mark": {"type": "errorbar", "color": "#ff0000", "thickness": 2, "clip": true},
     "encoding": {
       "x": {"field": "e", "type": "quantitative", "scale": {"type": "log", "domain": [1, 19.71], "nice": false}, "axis": null},
       "y": {"field": "r", "type": "quantitative", "scale": {"type": "linear", "domain": [0.8516, 1.268], "nice": false, "zero": false}, "axis": null},
       "yError": {"field": "dr"}
     }},
    {"data": {"name": "blkr"},
     "mark": {"type": "errorbar", "color": "#000000", "thickness": 2, "clip": true},
     "encoding": {
       "x": {"field": "e", "type": "quantitative", "scale": {"type": "log", "domain": [1, 19.71], "nice": false},
             "axis": {"orient": "top", "values": [1,2,3,4,5,6,7,8,9,10], "labels": false, "title": null, "tickSize": {"condition": {"test": "datum.value==1||datum.value==10", "value": -10}, "value": -5}}},
       "y": {"field": "r", "type": "quantitative", "scale": {"type": "linear", "domain": [0.8516, 1.268], "nice": false, "zero": false},
             "axis": {"orient": "right", "values": [0.86,0.88,0.9,0.92,0.94,0.96,0.98,1,1.02,1.04,1.06,1.08,1.1,1.12,1.14,1.16,1.18,1.2,1.22,1.24,1.26], "labels": false, "title": null,
                      "tickSize": {"condition": {"test": "indexof([0.9,1,1.1,1.2], datum.value) >= 0", "value": -10}, "value": -5}}},
       "yError": {"field": "dr"}
     }},
    {"data": {"name": "blkr"},
     "mark": {"type": "tick", "orient": "horizontal", "color": "#000000", "size": 5, "thickness": 1.5, "clip": true},
     "encoding": {
       "x": {"field": "e", "type": "quantitative", "scale": {"type": "log", "domain": [1, 19.71], "nice": false}, "axis": null},
       "y": {"field": "r", "type": "quantitative", "scale": {"type": "linear", "domain": [0.8516, 1.268], "nice": false, "zero": false}, "axis": null}
     }},
    {"data": {"values": [{"v": 1}]},
     "mark": {"type": "rule", "color": "#00ff00", "strokeWidth": 2, "clip": true},
     "encoding": {
       "y": {"field": "v", "type": "quantitative", "scale": {"type": "linear", "domain": [0.8516, 1.268], "nice": false, "zero": false}, "axis": null}
     }}
  ]
}
]
}
